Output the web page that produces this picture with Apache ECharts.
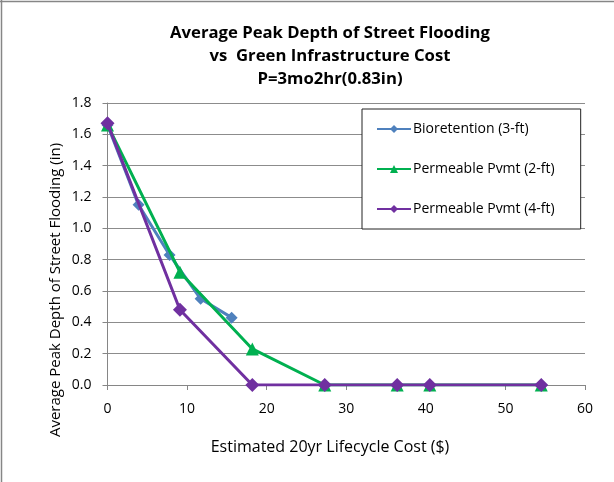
<!DOCTYPE html>
<html>
<head>
<meta charset="utf-8">
<script src="https://cdn.jsdelivr.net/npm/echarts@6/dist/echarts.min.js"></script>
<style>
  html, body { margin: 0; padding: 0; background: #fff; }
  #chart { width: 614px; height: 482px; }
</style>
</head>
<body>
<div id="chart"></div>
<script>
// Estimated 20-year lifecycle cost ($) for each scenario
const bioCost = [0, 3.9, 7.8, 11.7, 15.6];
const bioDepth = [1.66, 1.15, 0.83, 0.55, 0.43];

const pave2Cost = [0, 9.1, 18.2, 27.3, 36.4, 40.5, 54.5];
const pave2Depth = [1.66, 0.72, 0.23, 0, 0, 0, 0];

const pave4Cost = [0, 9.1, 18.2, 27.3, 36.4, 40.5, 54.5];
const pave4Depth = [1.67, 0.48, 0, 0, 0, 0, 0];

const seriesNames = ['Bioretention (3-ft)', 'Permeable Pvmt (2-ft)', 'Permeable Pvmt (4-ft)'];
const titleLines = ['Average Peak Depth of Street Flooding', 'vs  Green Infrastructure Cost', 'P=3mo2hr(0.83in)'];
const xName = 'Estimated 20yr Lifecycle Cost ($)';
const yName = 'Average Peak Depth of Street Flooding (in)';

const pairs = (xs, ys) => xs.map((x, i) => [x, ys[i]]);

const FONT = 'Open Sans';
const chart = echarts.init(document.getElementById('chart'), null, { renderer: 'canvas' });

chart.setOption({
  animation: false,
  backgroundColor: '#fff',
  textStyle: { fontFamily: FONT },
  title: {
    text: titleLines.join('\n'),
    left: 325,
    top: 17,
    textAlign: 'center',
    textStyle: { fontFamily: FONT, fontSize: 16.7, fontWeight: 'bold', color: '#000', lineHeight: 23 }
  },
  grid: { left: 107.5, right: 29, top: 103, bottom: 97 },
  legend: {
    orient: 'vertical',
    left: 362,
    top: 109,
    padding: [13, 26, 13, 14],
    itemGap: 26,
    itemWidth: 34,
    itemHeight: 10,
    backgroundColor: '#fff',
    borderColor: '#222',
    borderWidth: 1,
    textStyle: { fontFamily: FONT, fontSize: 14, color: '#000', padding: [0, 0, 0, -3] },
    data: seriesNames
  },
  xAxis: {
    type: 'value',
    min: 0, max: 60, interval: 10,
    axisLine: { show: true, lineStyle: { color: '#868686', width: 1 } },
    axisTick: { show: true, length: 5, lineStyle: { color: '#868686' } },
    splitLine: { show: false },
    axisLabel: { color: '#000', fontSize: 14, fontFamily: FONT, margin: 17 }
  },
  yAxis: {
    type: 'value',
    min: 0, max: 1.8, interval: 0.2,
    axisLine: { show: true, lineStyle: { color: '#868686', width: 1 } },
    axisTick: { show: true, length: 5, inside: false, lineStyle: { color: '#868686' } },
    splitLine: { show: true, lineStyle: { color: '#8c8c8c', width: 1 } },
    axisLabel: { color: '#000', fontSize: 14, fontFamily: FONT, margin: 16,
      formatter: v => v.toFixed(1) }
  },
  graphic: [
    { type: 'line', shape: { x1: 1.5, y1: 0, x2: 1.5, y2: 482 }, style: { stroke: '#868686', lineWidth: 1.5 } },
    { type: 'line', shape: { x1: 0, y1: 1.5, x2: 614, y2: 1.5 }, style: { stroke: '#868686', lineWidth: 1.5 } },
    { type: 'text', x: 56, y: 290, rotation: Math.PI / 2,
      style: { text: yName, font: '15px "' + FONT + '"', fill: '#000', align: 'center', verticalAlign: 'middle' } },
    { type: 'text', x: 330, y: 447,
      style: { text: xName, font: '16px "' + FONT + '"', fill: '#000', align: 'center', verticalAlign: 'middle' } }
  ],
  series: [
    {
      name: seriesNames[0], type: 'line', data: pairs(bioCost, bioDepth),
      symbol: 'diamond', symbolSize: 12,
      itemStyle: { color: '#4F81BD' }, lineStyle: { color: '#4F81BD', width: 3 }, z: 2
    },
    {
      name: seriesNames[1], type: 'line', data: pairs(pave2Cost, pave2Depth),
      symbol: 'triangle', symbolSize: 13,
      itemStyle: { color: '#00B050' }, lineStyle: { color: '#00B050', width: 3 }, z: 3
    },
    {
      name: seriesNames[2], type: 'line', data: pairs(pave4Cost, pave4Depth),
      symbol: 'diamond', symbolSize: 14,
      itemStyle: { color: '#7030A0' }, lineStyle: { color: '#7030A0', width: 3 }, z: 4
    }
  ]
});
</script>
</body>
</html>
